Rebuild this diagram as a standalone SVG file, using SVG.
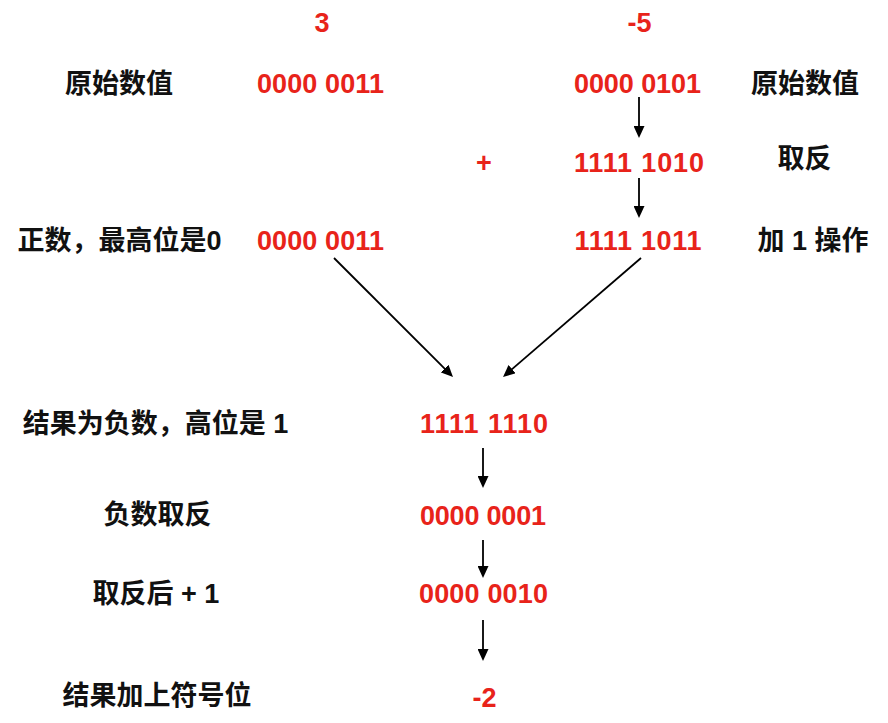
<svg xmlns="http://www.w3.org/2000/svg" width="888" height="723" viewBox="0 0 888 723">
<defs>
<marker id="ah" markerUnits="userSpaceOnUse" markerWidth="12" markerHeight="11" refX="9" refY="5.5" orient="auto">
<path d="M0,0 L12,5.5 L0,11 z" fill="#000"/>
</marker>
<style>
text{font-family:"Liberation Sans","Noto Sans CJK SC",sans-serif;font-weight:bold;text-anchor:middle}
.n{fill:#e8231a;font-size:27px}
.l{fill:#111;font-size:27px}
.c line{stroke:#000;stroke-width:1.8;marker-end:url(#ah)}
</style>
</defs>
<rect width="888" height="723" fill="#fff"/>
<g id="hdr3"><text class="n" x="322" y="32">3</text></g>
<g id="hdr-5"><text class="n" x="639.5" y="32">-5</text></g>
<g id="lbl-orig-l"><text class="l" x="119" y="93">原始数值</text></g>
<g id="a-orig"><text class="n" x="320.5" y="93" textLength="127" lengthAdjust="spacing">0000 0011</text></g>
<g id="b-orig"><text class="n" x="637.5" y="93" textLength="127" lengthAdjust="spacing">0000 0101</text></g>
<g id="lbl-orig-r"><text class="l" x="805" y="93">原始数值</text></g>
<g id="plus"><text class="n" x="484" y="172">+</text></g>
<g id="b-inv"><text class="n" x="639" y="172" textLength="130" lengthAdjust="spacing">1111 1010</text></g>
<g id="lbl-inv"><text class="l" x="804.5" y="168">取反</text></g>
<g id="lbl-pos"><text class="l" x="119.5" y="250">正数，最高位是0</text></g>
<g id="a-pos"><text class="n" x="320.5" y="250" textLength="127" lengthAdjust="spacing">0000 0011</text></g>
<g id="b-add"><text class="n" x="638" y="250" textLength="127" lengthAdjust="spacing">1111 1011</text></g>
<g id="lbl-add"><text class="l" x="813" y="250">加 1 操作</text></g>
<g id="lbl-neg"><text class="l" x="155.5" y="433">结果为负数，高位是 1</text></g>
<g id="sum"><text class="n" x="484" y="433" textLength="128" lengthAdjust="spacing">1111 1110</text></g>
<g id="lbl-neginv"><text class="l" x="157.5" y="524">负数取反</text></g>
<g id="sum-inv"><text class="n" x="483" y="525" textLength="126" lengthAdjust="spacing">0000 0001</text></g>
<g id="lbl-inv1"><text class="l" x="156" y="603">取反后 + 1</text></g>
<g id="sum-add"><text class="n" x="483.5" y="603" textLength="129" lengthAdjust="spacing">0000 0010</text></g>
<g id="lbl-sign"><text class="l" x="157" y="705">结果加上符号位</text></g>
<g id="result"><text class="n" x="484.5" y="707">-2</text></g>
<g id="connectors" class="c">
<line x1="639" y1="97" x2="639" y2="135"/>
<line x1="639" y1="178" x2="639" y2="215"/>
<line x1="334" y1="258" x2="450.9" y2="374.9"/>
<line x1="641" y1="258" x2="505.3" y2="375"/>
<line x1="483" y1="448" x2="483" y2="485"/>
<line x1="483" y1="540" x2="483" y2="575"/>
<line x1="483" y1="620" x2="483" y2="658"/>
</g>
</svg>
